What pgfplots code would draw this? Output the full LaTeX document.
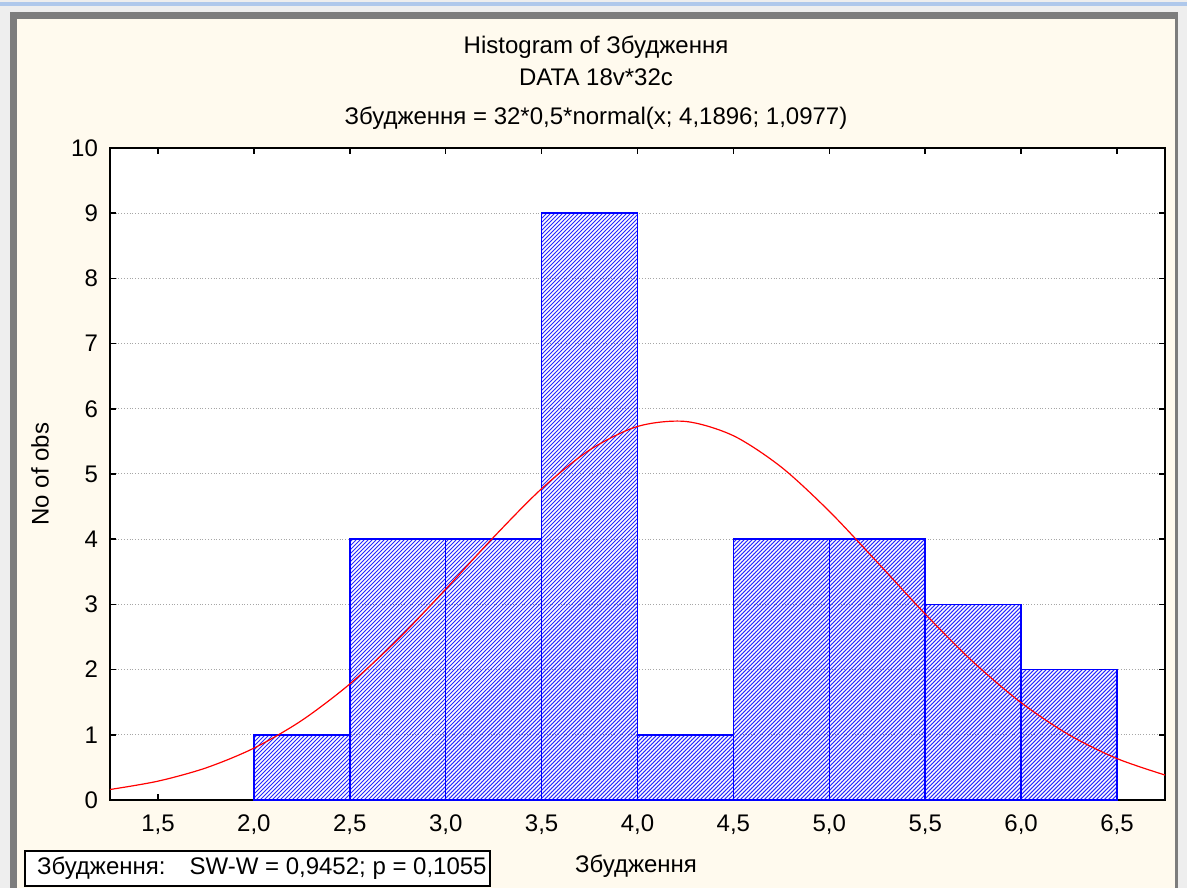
\documentclass[border=0pt]{standalone}
\usepackage{pgfplots}
\pgfplotsset{compat=1.18}
\usepackage{fontspec}
\setmainfont{Liberation Sans}
\usetikzlibrary{patterns.meta}
\definecolor{cream}{RGB}{255,250,238}
\definecolor{winframe}{RGB}{125,125,125}
\definecolor{winouter}{RGB}{238,238,238}
\definecolor{winblue}{RGB}{175,200,235}
\definecolor{hatch}{RGB}{40,40,255}

\begin{document}
\begin{tikzpicture}[font=\fontsize{12}{14}\selectfont]
% window frame, in px of the reference, origin at the axis corner (110,800)
\begin{scope}[shift={(-55pt,-44pt)}, x=0.5pt, y=0.5pt]
\useasboundingbox (0,0) rectangle (1187,888);
\fill[winouter] (0,0) rectangle (1187,888);
\fill[winblue] (0,882) rectangle (1187,886);
\fill[winframe] (10,0) rectangle (1178,876);
\fill[cream] (17,0) rectangle (1175,869);
\end{scope}

\begin{axis}[
    at={(0pt,0pt)}, anchor=south west,
    width=527.5pt, height=326pt, scale only axis,
    xmin=1.25, xmax=6.75, ymin=0, ymax=10,
    axis background/.style={fill=white},
    xtick={1.5,2,2.5,3,3.5,4,4.5,5,5.5,6,6.5},
    ytick={0,1,...,10},
    ymajorgrids,
    major grid style={densely dotted, black!35, line width=0.5pt},
    axis line style={line width=0.9pt},
    major tick length=3pt,
    tick style={black, line width=0.8pt},
    xticklabel style={yshift=-4pt, /pgf/number format/.cd, fixed, fixed zerofill, precision=1, use comma},
    yticklabel style={xshift=-2.5pt},
    /pgf/number format/assume math mode=true,
    ]
\addplot[ybar interval, draw=blue, line width=0.8pt,
    pattern={Lines[angle=45,distance=1.414pt,line width=0.5pt]}, pattern color=hatch]
coordinates {(2,1) (2.5,4) (3,4) (3.5,9) (4,1) (4.5,4) (5,4) (5.5,3) (6,2) (6.5,2)};

% 32*0,5*normal(x; 4,1896; 1,0977), values read at 0.25 steps
\addplot[red, line width=0.6pt, smooth] coordinates {
(1.25,0.161) (1.5,0.289) (1.75,0.492) (2.0,0.795) (2.25,1.221) (2.5,1.779)
(2.75,2.461) (3.0,3.233) (3.25,4.031) (3.5,4.774) (3.75,5.367) (4.0,5.729)
(4.25,5.806) (4.5,5.587) (4.75,5.105) (5.0,4.428) (5.25,3.647)
(5.5,2.852) (5.75,2.117) (6.0,1.493) (6.25,0.999) (6.5,0.635) (6.75,0.383)
};
\end{axis}

\begin{scope}[shift={(-55pt,-44pt)}, x=0.5pt, y=0.5pt]
% titles
\node at (596,841) {Histogram of Збудження};
\node at (596,811) {DATA 18v*32c};
\node at (596,770) {Збудження = 32*0,5*normal(x; 4,1896; 1,0977)};
\node at (636,22) {Збудження};
\node[rotate=90] at (40,414) {No of obs};
% test box
\draw[fill=white, line width=0.6pt] (25,2) rectangle (490,37);
\node[anchor=west] at (30,19.5) {Збудження:\hspace{1em}SW-W = 0,9452; p = 0,1055};
\end{scope}
\end{tikzpicture}
\end{document}
